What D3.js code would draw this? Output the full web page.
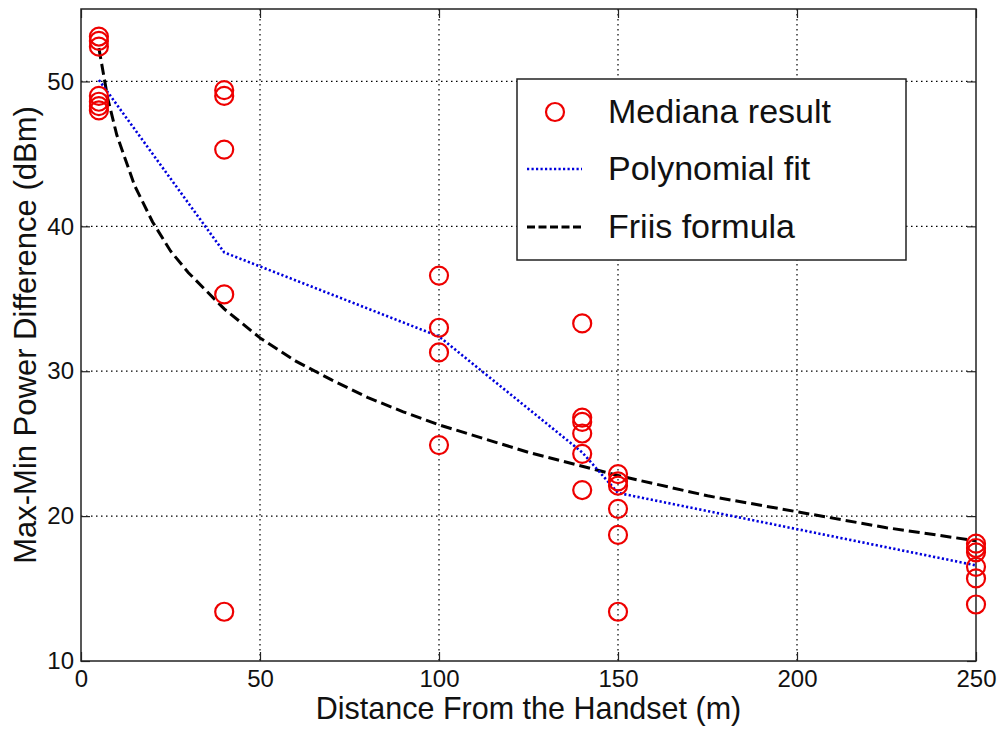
<!DOCTYPE html>
<html>
<head>
<meta charset="utf-8">
<script src="https://cdn.jsdelivr.net/npm/d3@7"></script>
<style>
  body { margin: 0; background: #fff; }
  text { font-family: "Liberation Sans", Arial, sans-serif; fill: #111; }
</style>
</head>
<body>
<svg id="chart" width="1000" height="729"></svg>
<script>
// measured points (distance m, power difference dBm)
const measX = [5, 5, 5, 5, 5, 5, 5,
  40, 40, 40, 40, 40,
  100, 100, 100, 100,
  140, 140, 140, 140, 140, 140,
  150, 150, 150, 150, 150, 150,
  250, 250, 250, 250, 250, 250];
const measY = [53.1, 52.8, 52.4, 49.0, 48.6, 48.3, 48.0,
  49.4, 49.0, 45.3, 35.3, 13.4,
  36.6, 33.0, 31.3, 24.9,
  33.3, 26.8, 26.5, 25.7, 24.3, 21.8,
  22.9, 22.4, 22.1, 20.5, 18.7, 13.4,
  18.1, 17.8, 17.5, 16.5, 15.7, 13.9];

// polynomial fit (piecewise, as drawn)
const polyX = [5, 40, 100, 140, 150, 250];
const polyY = [50.1, 38.2, 32.4, 24.4, 21.6, 16.6];

// Friis formula curve
const friisX = [5, 7.5, 10, 15, 20, 25, 30, 40, 50, 60, 70, 80, 90, 100, 125, 150, 175, 200, 225, 250];
const friisY = [52.3, 48.8, 46.3, 42.8, 40.3, 38.3, 36.8, 34.3, 32.3, 30.7, 29.4, 28.2, 27.2, 26.3, 24.4, 22.8, 21.4, 20.3, 19.2, 18.3];

const xTicks = [0, 50, 100, 150, 200, 250];
const yTicks = [10, 20, 30, 40, 50];
const legendLabels = ["Mediana result", "Polynomial fit", "Friis formula"];

const mLeft = 81, mRight = 976, mTop = 9, mBottom = 661;
const svg = d3.select("#chart");

const x = d3.scaleLinear().domain([0, 250]).range([mLeft, mRight]);
const y = d3.scaleLinear().domain([10, 55]).range([mBottom, mTop]);

// grid
const grid = svg.append("g").attr("stroke", "#000").attr("stroke-width", 1.2)
  .attr("stroke-dasharray", "1.5,3.5");
grid.selectAll("line.gx").data(xTicks.filter(d => d > 0 && d < 250)).enter().append("line")
  .attr("x1", d => x(d)).attr("x2", d => x(d)).attr("y1", mTop).attr("y2", mBottom);
grid.selectAll("line.gy").data(yTicks.filter(d => d > 10)).enter().append("line")
  .attr("x1", mLeft).attr("x2", mRight).attr("y1", d => y(d)).attr("y2", d => y(d));

// axes with inward ticks (MATLAB style)
const tickLen = 9;
svg.append("g").attr("transform", `translate(0,${mBottom})`)
  .call(d3.axisBottom(x).tickValues(xTicks).tickSize(-tickLen).tickPadding(9))
  .call(g => g.select(".domain").remove())
  .call(g => g.selectAll("text").attr("font-size", 24).attr("fill", "#111"));
svg.append("g").attr("transform", `translate(${mLeft},0)`)
  .call(d3.axisLeft(y).tickValues(yTicks).tickSize(-tickLen).tickPadding(7))
  .call(g => g.select(".domain").remove())
  .call(g => g.selectAll("text").attr("font-size", 24).attr("fill", "#111"));
svg.append("g").attr("transform", `translate(0,${mTop})`)
  .call(d3.axisTop(x).tickValues(xTicks).tickSize(-tickLen).tickFormat(""))
  .call(g => g.select(".domain").remove());
svg.append("g").attr("transform", `translate(${mRight},0)`)
  .call(d3.axisRight(y).tickValues(yTicks).tickSize(-tickLen).tickFormat(""))
  .call(g => g.select(".domain").remove());
svg.selectAll(".tick line").attr("stroke", "#222").attr("stroke-width", 1.2);

svg.append("rect").attr("x", mLeft).attr("y", mTop)
  .attr("width", mRight - mLeft).attr("height", mBottom - mTop)
  .attr("fill", "none").attr("stroke", "#222").attr("stroke-width", 1.5);

// lines
const line = d3.line().x(d => x(d[0])).y(d => y(d[1]));
svg.append("path").datum(d3.zip(friisX, friisY)).attr("d", line)
  .attr("fill", "none").attr("stroke", "#000").attr("stroke-width", 3)
  .attr("stroke-dasharray", "11,5");
svg.append("path").datum(d3.zip(polyX, polyY)).attr("d", line)
  .attr("fill", "none").attr("stroke", "#0000dd").attr("stroke-width", 2.6)
  .attr("stroke-dasharray", "2.2,2.3");

// points
svg.append("g").selectAll("circle").data(d3.zip(measX, measY)).enter().append("circle")
  .attr("cx", d => x(d[0])).attr("cy", d => y(d[1])).attr("r", 9)
  .attr("fill", "none").attr("stroke", "#e00").attr("stroke-width", 2.2);

// axis labels
svg.append("text").attr("x", (mLeft + mRight) / 2).attr("y", 719)
  .attr("text-anchor", "middle").attr("font-size", 30.5).text("Distance From the Handset (m)");
svg.append("text").attr("transform", `translate(36,${(mTop + mBottom) / 2}) rotate(-90)`)
  .attr("text-anchor", "middle").attr("font-size", 31).text("Max-Min Power Difference (dBm)");

// legend
const lg = svg.append("g");
lg.append("rect").attr("x", 517).attr("y", 79).attr("width", 389).attr("height", 181)
  .attr("fill", "#fff").attr("stroke", "#222").attr("stroke-width", 1.5);
const rowY = [112, 169, 227];
lg.append("circle").attr("cx", 555).attr("cy", rowY[0]).attr("r", 9)
  .attr("fill", "none").attr("stroke", "#e00").attr("stroke-width", 2.2);
lg.append("line").attr("x1", 527).attr("x2", 582).attr("y1", rowY[1]).attr("y2", rowY[1])
  .attr("stroke", "#0000dd").attr("stroke-width", 2.6).attr("stroke-dasharray", "2.2,2.3");
lg.append("line").attr("x1", 527).attr("x2", 582).attr("y1", rowY[2]).attr("y2", rowY[2])
  .attr("stroke", "#000").attr("stroke-width", 3).attr("stroke-dasharray", "8,3.5");
lg.selectAll("text.lt").data(legendLabels).enter().append("text")
  .attr("x", 608).attr("y", (d, i) => rowY[i] + 11)
  .attr("font-size", 34).text(d => d);
</script>
</body>
</html>
